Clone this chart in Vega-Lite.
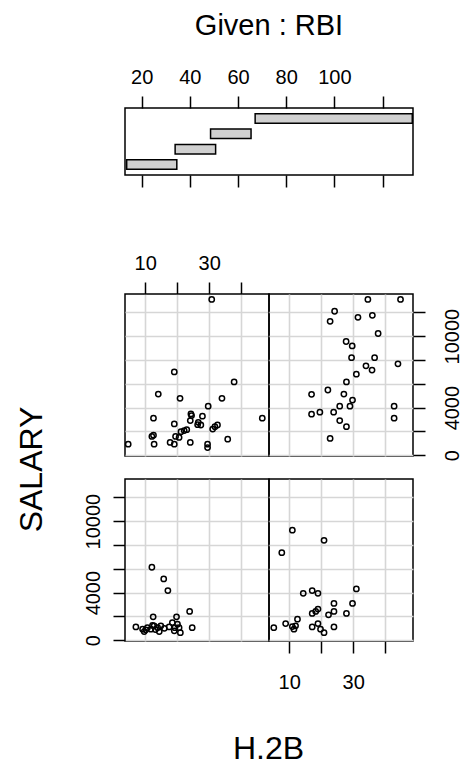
{
  "$schema": "https://vega.github.io/schema/vega-lite/v6.json",
  "background": "white",
  "padding": {"left": 14, "top": 10, "right": 0, "bottom": 0},
  "config": {
    "font": "Liberation Sans",
    "view": {"stroke": "black", "strokeWidth": 1.5},
    "axis": {
      "domain": false,
      "tickColor": "black",
      "tickWidth": 1.5,
      "tickSize": 12,
      "labelFont": "Liberation Sans",
      "labelFontSize": 20,
      "labelColor": "black",
      "labelFlush": false,
      "labelOverlap": false,
      "labelBound": false,
      "gridColor": "#d6d6d6",
      "gridWidth": 1.6,
      "titleFont": "Liberation Sans",
      "titleColor": "black",
      "titleFontWeight": "normal"
    }
  },
  "datasets": {
    "given": [
      {"interval": 1, "lo": 13.8, "hi": 34.6},
      {"interval": 2, "lo": 33.9, "hi": 50.7},
      {"interval": 3, "lo": 48.6, "hi": 65.4},
      {"interval": 4, "lo": 67.1, "hi": 132.3}
    ],
    "pts": [
      {"panel": 3, "h2b": 4.7, "salary": 930},
      {"panel": 3, "h2b": 12.6, "salary": 3110},
      {"panel": 3, "h2b": 12.6, "salary": 1690},
      {"panel": 3, "h2b": 12.1, "salary": 1580},
      {"panel": 3, "h2b": 12.8, "salary": 930},
      {"panel": 3, "h2b": 14.1, "salary": 5140},
      {"panel": 3, "h2b": 17.8, "salary": 1075},
      {"panel": 3, "h2b": 19.1, "salary": 930},
      {"panel": 3, "h2b": 19.1, "salary": 2630},
      {"panel": 3, "h2b": 19.1, "salary": 7000},
      {"panel": 3, "h2b": 20.9, "salary": 4780},
      {"panel": 3, "h2b": 21.2, "salary": 1980},
      {"panel": 3, "h2b": 22.2, "salary": 2070},
      {"panel": 3, "h2b": 20.6, "salary": 1500},
      {"panel": 3, "h2b": 23.0, "salary": 2150},
      {"panel": 3, "h2b": 24.1, "salary": 1075},
      {"panel": 3, "h2b": 24.3, "salary": 3470},
      {"panel": 3, "h2b": 24.5, "salary": 3330},
      {"panel": 3, "h2b": 27.9, "salary": 3280},
      {"panel": 3, "h2b": 26.6, "salary": 2770},
      {"panel": 3, "h2b": 27.4, "salary": 2540},
      {"panel": 3, "h2b": 29.7, "salary": 4120},
      {"panel": 3, "h2b": 29.5, "salary": 930},
      {"panel": 3, "h2b": 29.5, "salary": 650},
      {"panel": 3, "h2b": 31.1, "salary": 2200},
      {"panel": 3, "h2b": 31.8, "salary": 2400},
      {"panel": 3, "h2b": 32.6, "salary": 2540},
      {"panel": 3, "h2b": 34.0, "salary": 4780},
      {"panel": 3, "h2b": 35.8, "salary": 1355},
      {"panel": 3, "h2b": 37.8, "salary": 6160},
      {"panel": 3, "h2b": 46.6, "salary": 3110},
      {"panel": 3, "h2b": 30.8, "salary": 13080},
      {"panel": 3, "h2b": 24.1, "salary": 2910},
      {"panel": 3, "h2b": 19.5, "salary": 1580},
      {"panel": 3, "h2b": 26.4, "salary": 2570},

      {"panel": 4, "h2b": 34.6, "salary": 13080},
      {"panel": 4, "h2b": 44.8, "salary": 13080},
      {"panel": 4, "h2b": 24.2, "salary": 12090},
      {"panel": 4, "h2b": 22.8, "salary": 11240},
      {"panel": 4, "h2b": 31.5, "salary": 11580},
      {"panel": 4, "h2b": 36.0, "salary": 11750},
      {"panel": 4, "h2b": 37.8, "salary": 10220},
      {"panel": 4, "h2b": 27.8, "salary": 9550},
      {"panel": 4, "h2b": 29.7, "salary": 9180},
      {"panel": 4, "h2b": 29.5, "salary": 8190},
      {"panel": 4, "h2b": 36.7, "salary": 8190},
      {"panel": 4, "h2b": 44.0, "salary": 7680},
      {"panel": 4, "h2b": 34.0, "salary": 7510},
      {"panel": 4, "h2b": 35.9, "salary": 7150},
      {"panel": 4, "h2b": 31.0, "salary": 6810},
      {"panel": 4, "h2b": 27.9, "salary": 6160},
      {"panel": 4, "h2b": 22.1, "salary": 5480},
      {"panel": 4, "h2b": 17.0, "salary": 5120},
      {"panel": 4, "h2b": 27.1, "salary": 5140},
      {"panel": 4, "h2b": 29.8, "salary": 4630},
      {"panel": 4, "h2b": 25.8, "salary": 4120},
      {"panel": 4, "h2b": 29.0, "salary": 4120},
      {"panel": 4, "h2b": 42.8, "salary": 4120},
      {"panel": 4, "h2b": 17.0, "salary": 3450},
      {"panel": 4, "h2b": 19.6, "salary": 3620},
      {"panel": 4, "h2b": 23.9, "salary": 3620},
      {"panel": 4, "h2b": 25.8, "salary": 2910},
      {"panel": 4, "h2b": 27.9, "salary": 2400},
      {"panel": 4, "h2b": 42.8, "salary": 3110},
      {"panel": 4, "h2b": 22.8, "salary": 1415},

      {"panel": 1, "h2b": 12.1, "salary": 6130},
      {"panel": 1, "h2b": 15.8, "salary": 5150},
      {"panel": 1, "h2b": 17.1, "salary": 4170},
      {"panel": 1, "h2b": 23.9, "salary": 2420},
      {"panel": 1, "h2b": 12.5, "salary": 1970},
      {"panel": 1, "h2b": 19.8, "salary": 1970},
      {"panel": 1, "h2b": 7.1, "salary": 1120},
      {"panel": 1, "h2b": 24.7, "salary": 1060},
      {"panel": 1, "h2b": 9.2, "salary": 930},
      {"panel": 1, "h2b": 9.7, "salary": 730},
      {"panel": 1, "h2b": 10.7, "salary": 1060},
      {"panel": 1, "h2b": 11.8, "salary": 930},
      {"panel": 1, "h2b": 12.8, "salary": 1210},
      {"panel": 1, "h2b": 13.9, "salary": 1060},
      {"panel": 1, "h2b": 14.4, "salary": 730},
      {"panel": 1, "h2b": 14.9, "salary": 1210},
      {"panel": 1, "h2b": 17.5, "salary": 1120},
      {"panel": 1, "h2b": 18.5, "salary": 1490},
      {"panel": 1, "h2b": 19.3, "salary": 1060},
      {"panel": 1, "h2b": 20.1, "salary": 1350},
      {"panel": 1, "h2b": 20.6, "salary": 1060},
      {"panel": 1, "h2b": 21.0, "salary": 640},
      {"panel": 1, "h2b": 19.1, "salary": 790},
      {"panel": 1, "h2b": 10.2, "salary": 880},
      {"panel": 1, "h2b": 12.3, "salary": 1250},
      {"panel": 1, "h2b": 16.0, "salary": 1000},
      {"panel": 1, "h2b": 13.2, "salary": 900},

      {"panel": 2, "h2b": 11.0, "salary": 9240},
      {"panel": 2, "h2b": 20.9, "salary": 8390},
      {"panel": 2, "h2b": 7.7, "salary": 7350},
      {"panel": 2, "h2b": 31.0, "salary": 4310},
      {"panel": 2, "h2b": 14.4, "salary": 3940},
      {"panel": 2, "h2b": 17.2, "salary": 4170},
      {"panel": 2, "h2b": 19.0, "salary": 3940},
      {"panel": 2, "h2b": 24.0, "salary": 3090},
      {"panel": 2, "h2b": 29.8, "salary": 3090},
      {"panel": 2, "h2b": 19.0, "salary": 2620},
      {"panel": 2, "h2b": 17.2, "salary": 2250},
      {"panel": 2, "h2b": 18.3, "salary": 2420},
      {"panel": 2, "h2b": 24.0, "salary": 2420},
      {"panel": 2, "h2b": 22.3, "salary": 2140},
      {"panel": 2, "h2b": 27.9, "salary": 2250},
      {"panel": 2, "h2b": 5.2, "salary": 1060},
      {"panel": 2, "h2b": 8.9, "salary": 1400},
      {"panel": 2, "h2b": 12.6, "salary": 1770},
      {"panel": 2, "h2b": 11.0, "salary": 1150},
      {"panel": 2, "h2b": 11.5, "salary": 930},
      {"panel": 2, "h2b": 12.0, "salary": 1210},
      {"panel": 2, "h2b": 17.2, "salary": 1120},
      {"panel": 2, "h2b": 19.0, "salary": 1400},
      {"panel": 2, "h2b": 19.8, "salary": 930},
      {"panel": 2, "h2b": 20.9, "salary": 640},
      {"panel": 2, "h2b": 24.0, "salary": 1120}
    ]
  },
  "bounds": "flush",
  "spacing": 119,
  "vconcat": [
    {
      "width": 288,
      "height": 67,
      "data": {"name": "given"},
      "layer": [
        {
          "mark": {"type": "rect", "fill": "#d0d0d0", "stroke": "black", "strokeWidth": 1.5},
          "encoding": {
            "x": {
              "field": "lo", "type": "quantitative",
              "scale": {"domain": [13.1, 132.6], "nice": false, "zero": false},
              "axis": {
                "orient": "top", "values": [20, 40, 60, 80, 100, 120], "grid": false, "format": "d",
                "labelExpr": "datum.value <= 100 ? datum.label : ''",
                "labelBaseline": "alphabetic", "labelPadding": 13,
                "title": "Given : RBI", "titleX": 143.5, "titleY": -73.4,
                "titleFontSize": 29, "titleBaseline": "alphabetic", "titleAlign": "center", "titleAngle": 0
              }
            },
            "x2": {"field": "hi"},
            "y": {
              "field": "interval", "type": "ordinal", "sort": "descending",
              "scale": {"paddingInner": 0.38, "paddingOuter": 0.37},
              "axis": null
            }
          }
        },
        {
          "mark": {"type": "rect", "opacity": 0},
          "encoding": {
            "x": {
              "field": "lo", "type": "quantitative",
              "axis": {"orient": "bottom", "values": [20, 40, 60, 80, 100, 120], "labels": false, "grid": false, "title": null}
            },
            "x2": {"field": "hi"},
            "y": {"field": "interval", "type": "ordinal", "sort": "descending", "axis": null}
          }
        }
      ],
      "resolve": {"axis": {"x": "independent"}}
    },
    {
      "columns": 2,
      "bounds": "flush",
      "spacing": {"row": 23, "column": 0},
      "concat": [
        {
          "width": 144, "height": 162,
          "data": {"name": "pts"},
          "transform": [{"filter": "datum.panel == 3"}],
          "mark": {"type": "point", "filled": false, "color": "black", "strokeWidth": 1.5, "size": 28, "opacity": 1},
          "encoding": {
            "x": {
              "field": "h2b", "type": "quantitative",
              "scale": {"domain": [3.7, 48.7], "nice": false, "zero": false},
              "axis": {"orient": "top", "values": [10, 20, 30, 40], "grid": true, "title": null, "format": "d",
                "labelExpr": "datum.value == 10 || datum.value == 30 ? datum.label : ''",
                "labelBaseline": "alphabetic", "labelPadding": 13}
            },
            "y": {
              "field": "salary", "type": "quantitative",
              "scale": {"domain": [-60, 13536], "nice": false, "zero": false},
              "axis": {"values": [0, 2000, 4000, 6000, 8000, 10000, 12000], "grid": true, "ticks": false, "labels": false, "title": null}
            }
          }
        },
        {
          "width": 144, "height": 162,
          "data": {"name": "pts"},
          "transform": [{"filter": "datum.panel == 4"}],
          "mark": {"type": "point", "filled": false, "color": "black", "strokeWidth": 1.5, "size": 28, "opacity": 1},
          "encoding": {
            "x": {
              "field": "h2b", "type": "quantitative",
              "scale": {"domain": [3.7, 48.7], "nice": false, "zero": false},
              "axis": {"values": [10, 20, 30, 40], "grid": true, "ticks": false, "labels": false, "title": null}
            },
            "y": {
              "field": "salary", "type": "quantitative",
              "scale": {"domain": [-60, 13536], "nice": false, "zero": false},
              "axis": {"orient": "right", "values": [0, 2000, 4000, 6000, 8000, 10000, 12000], "grid": true, "title": null, "format": "d",
                "labelExpr": "datum.value == 0 || datum.value == 4000 || datum.value == 10000 ? datum.label : ''",
                "labelAngle": -90, "labelAlign": "center", "labelBaseline": "alphabetic", "labelPadding": 33.5}
            }
          }
        },
        {
          "width": 144, "height": 162,
          "data": {"name": "pts"},
          "transform": [{"filter": "datum.panel == 1"}],
          "mark": {"type": "point", "filled": false, "color": "black", "strokeWidth": 1.5, "size": 28, "opacity": 1},
          "encoding": {
            "x": {
              "field": "h2b", "type": "quantitative",
              "scale": {"domain": [3.7, 48.7], "nice": false, "zero": false},
              "axis": {"values": [10, 20, 30, 40], "grid": true, "ticks": false, "labels": false, "title": null}
            },
            "y": {
              "field": "salary", "type": "quantitative",
              "scale": {"domain": [-60, 13536], "nice": false, "zero": false},
              "axis": {"orient": "left", "values": [0, 2000, 4000, 6000, 8000, 10000, 12000], "grid": true, "format": "d",
                "labelExpr": "datum.value == 0 || datum.value == 4000 || datum.value == 10000 ? datum.label : ''",
                "labelAngle": -90, "labelAlign": "center", "labelBaseline": "alphabetic", "labelPadding": 14,
                "title": "SALARY", "titleFontSize": 32, "titleAngle": -90, "titleAlign": "center", "titleBaseline": "alphabetic",
                "titleX": -84, "titleY": -10}
            }
          }
        },
        {
          "width": 144, "height": 162,
          "data": {"name": "pts"},
          "transform": [{"filter": "datum.panel == 2"}],
          "mark": {"type": "point", "filled": false, "color": "black", "strokeWidth": 1.5, "size": 28, "opacity": 1},
          "encoding": {
            "x": {
              "field": "h2b", "type": "quantitative",
              "scale": {"domain": [3.7, 48.7], "nice": false, "zero": false},
              "axis": {"orient": "bottom", "values": [10, 20, 30, 40], "grid": true, "format": "d",
                "labelExpr": "datum.value == 10 || datum.value == 30 ? datum.label : ''",
                "labelBaseline": "alphabetic", "labelPadding": 35,
                "title": "H.2B", "titleFontSize": 32, "titleAlign": "center", "titleBaseline": "alphabetic",
                "titleX": -1, "titleY": 117}
            },
            "y": {
              "field": "salary", "type": "quantitative",
              "scale": {"domain": [-60, 13536], "nice": false, "zero": false},
              "axis": {"values": [0, 2000, 4000, 6000, 8000, 10000, 12000], "grid": true, "ticks": false, "labels": false, "title": null}
            }
          }
        }
      ]
    }
  ]
}
